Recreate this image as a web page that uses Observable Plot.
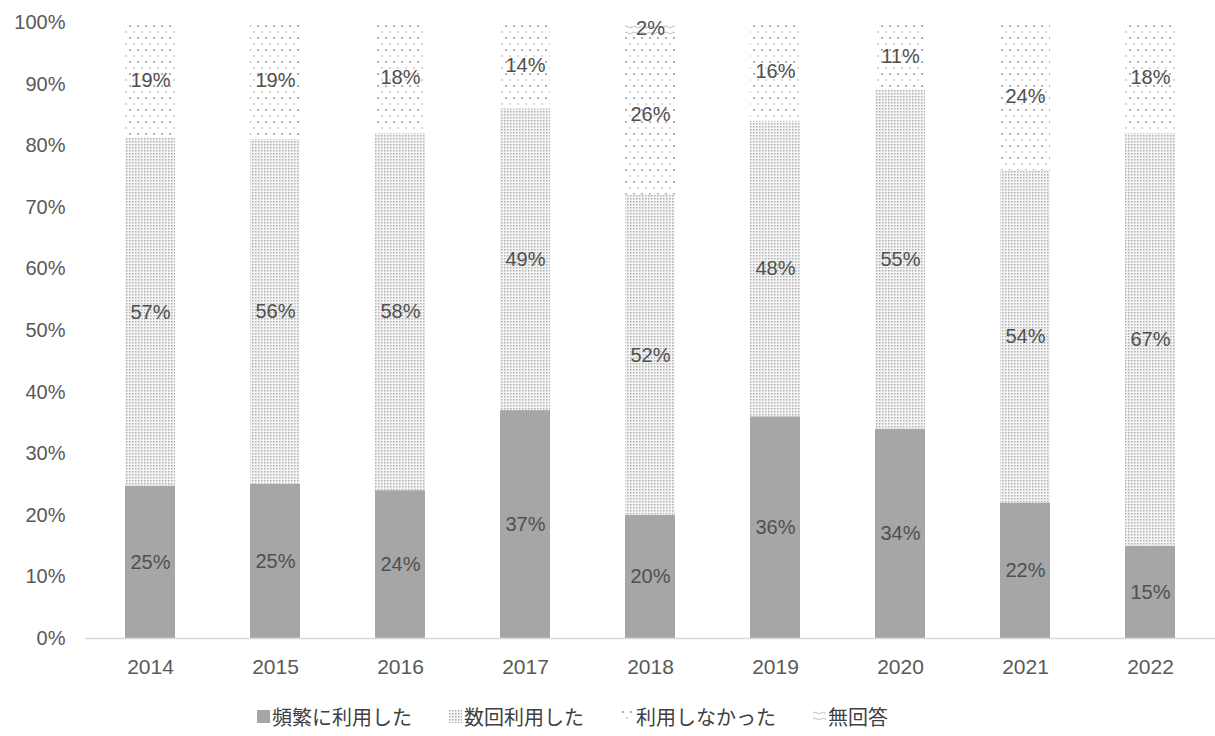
<!DOCTYPE html>
<html><head><meta charset="utf-8">
<script src="https://cdn.jsdelivr.net/npm/d3@7"></script>
<script src="https://cdn.jsdelivr.net/npm/@observablehq/plot@0.6"></script>
<style>
body{margin:0;background:#fff;font-family:"Noto Sans CJK JP","Noto Sans",sans-serif;}
#legend{display:flex;justify-content:flex-start;gap:37px;font-size:20px;color:#404040;margin-top:12px;padding-left:257px;}
#legend span.item{display:flex;align-items:center;gap:2px;}
</style></head><body>
<svg width="0" height="0" style="position:absolute">
<defs>
<pattern id="pSev" width="3" height="3" patternUnits="userSpaceOnUse">
<rect width="3" height="3" fill="#f4f4f4"/><rect x="0" y="0" width="1.5" height="1.5" fill="#b0b0b0"/>
</pattern>
<pattern id="pNev" width="8" height="12" patternUnits="userSpaceOnUse">
<rect width="8" height="12" fill="#fff"/><circle cx="2" cy="2" r="1.1" fill="#a0a0a0"/><circle cx="6" cy="8" r="0.9" fill="#c4c4c4"/>
</pattern>
<pattern id="pNo" width="8" height="6" patternUnits="userSpaceOnUse">
<rect width="8" height="6" fill="#fff"/><path d="M0 3 Q2 1 4 3 T8 3" fill="none" stroke="#b5b5b5" stroke-width="0.9"/>
</pattern>
</defs></svg>
<div id="chart"></div>
<div id="legend"></div>
<script>
const years = ["2014","2015","2016","2017","2018","2019","2020","2021","2022"];
const categories = ["頻繁に利用した","数回利用した","利用しなかった","無回答"];
const frequent = [25,25,24,37,20,36,34,22,15];
const several = [57,56,58,49,52,48,55,54,67];
const never = [19,19,18,14,26,16,11,24,18];
const noAnswer = [0,0,0,0,2,0,0,0,0];
const yTicks = [0,0.1,0.2,0.3,0.4,0.5,0.6,0.7,0.8,0.9,1];
const fills = ["#a6a6a6","url(#pSev)","url(#pNev)","url(#pNo)"];

const series = [frequent, several, never, noAnswer];
const rows = [];
years.forEach((y,i)=>categories.forEach((c,k)=>rows.push({year:y, cat:c, value:series[k][i]})));

const numFont = '"Liberation Sans", Arial, sans-serif';
const chart = Plot.plot({
  width:1215, height:690,
  marginLeft:85, marginRight:0, marginTop:22, marginBottom:52,
  style:{fontFamily:numFont, background:"#fff"},
  x:{domain:years, paddingInner:0.6, paddingOuter:0.3, label:null, axis:null},
  y:{domain:[0,1], label:null, axis:null},
  color:{domain:categories, range:fills, type:"ordinal"},
  marks:[
    Plot.barY(rows, Plot.stackY({offset:"normalize"}, {x:"year", y:"value", z:"cat", fill:"cat"})),
    Plot.ruleY([0], {stroke:"#d9d9d9", strokeWidth:1.5}),
    Plot.axisY(yTicks, {tickSize:0, tickPadding:20, tickFormat:d=>Math.round(d*100)+"%", fontSize:20, fill:"#595959", label:null}),
    Plot.axisX(years, {tickSize:0, tickPadding:21, fontSize:21, fill:"#595959", label:null}),
    Plot.text(rows, Plot.stackY({offset:"normalize"}, {x:"year", y:"value", z:"cat", text:d=>d.value>0?d.value+"%":"", fill:"#505050", fontSize:20})),
  ]
});
document.getElementById("chart").appendChild(chart);

const leg = document.getElementById("legend");
categories.forEach((c,k)=>{
  const s = document.createElement("span"); s.className="item";
  s.innerHTML = `<svg width="13" height="13"><rect width="13" height="13" fill="${fills[k]}"/></svg><span>${c}</span>`;
  leg.appendChild(s);
});
</script>
</body></html>
